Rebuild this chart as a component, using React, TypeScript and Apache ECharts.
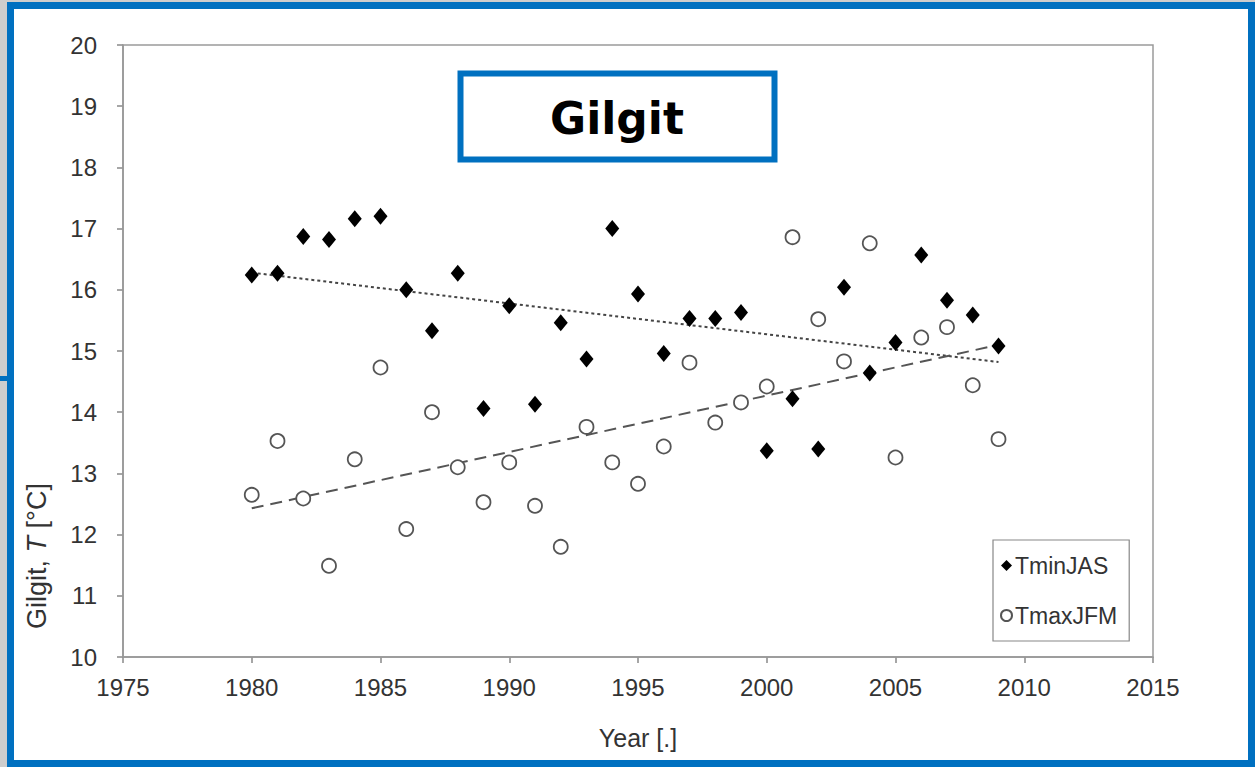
import React, { useEffect, useRef } from "react";
import * as echarts from "echarts";

const years = [1980, 1981, 1982, 1983, 1984, 1985, 1986, 1987, 1988, 1989, 1990, 1991, 1992, 1993, 1994, 1995, 1996, 1997, 1998, 1999, 2000, 2001, 2002, 2003, 2004, 2005, 2006, 2007, 2008, 2009];
const tminJAS = [16.24, 16.27, 16.87, 16.82, 17.16, 17.2, 16.0, 15.33, 16.27, 14.06, 15.74, 14.13, 15.46, 14.87, 17.0, 15.93, 14.96, 15.53, 15.53, 15.63, 13.37, 14.22, 13.4, 16.04, 14.64, 15.14, 16.57, 15.83, 15.59, 15.08];
const tmaxJFM = [12.65, 13.53, 12.59, 11.49, 13.23, 14.73, 12.09, 14.0, 13.1, 12.53, 13.18, 12.47, 11.8, 13.76, 13.18, 12.83, 13.44, 14.81, 13.83, 14.16, 14.42, 16.86, 15.52, 14.83, 16.76, 13.26, 15.22, 15.39, 14.44, 13.56];
// trend line end points
const trendYears = [1980, 2009];
const tminTrend = [16.28, 14.82];
const tmaxTrend = [12.43, 15.1];

const FONT = "'Liberation Sans', Arial, sans-serif";

export default function App() {
  const ref = useRef<HTMLDivElement>(null);
  useEffect(() => {
    if (!ref.current) return;
    const chart = echarts.init(ref.current, undefined, { renderer: "svg" });
    chart.setOption({
      animation: false,
      backgroundColor: "#cdcdcd",
      grid: {
        left: 123,
        right: 102,
        top: 45,
        bottom: 110,
        show: true,
        borderColor: "#9a9a9a",
        borderWidth: 1.5,
        backgroundColor: "transparent",
        z: 1,
      },
      xAxis: {
        type: "value",
        min: 1975,
        max: 2015,
        interval: 5,
        axisLine: { show: true, lineStyle: { color: "#888", width: 1.5 } },
        axisTick: { show: true, inside: false, length: 6, lineStyle: { color: "#888", width: 1.5 } },
        axisLabel: {
          color: "#333",
          fontFamily: FONT,
          fontSize: 24,
          margin: 18,
          formatter: (v: number) => String(v),
        },
        splitLine: { show: false },
      },
      yAxis: {
        type: "value",
        min: 10,
        max: 20,
        interval: 1,
        axisLine: { show: true, lineStyle: { color: "#888", width: 1.5 } },
        axisTick: { show: true, inside: false, length: 6, lineStyle: { color: "#888", width: 1.5 } },
        axisLabel: { color: "#333", fontFamily: FONT, fontSize: 24, margin: 26 },
        splitLine: { show: false },
      },
      legend: {
        data: ["TminJAS", "TmaxJFM"],
        orient: "vertical",
        left: 993,
        top: 540,
        padding: [14, 12, 14, 7],
        itemGap: 27,
        itemWidth: 11,
        itemHeight: 11,
        borderColor: "#888",
        borderWidth: 1.2,
        backgroundColor: "#fff",
        textStyle: { color: "#333", fontFamily: FONT, fontSize: 23, padding: [0, 0, 0, -2] },
      },
      graphic: [
        {
          type: "rect",
          z: -10,
          silent: true,
          shape: { x: 10.5, y: 5.5, width: 1241, height: 758 },
          style: { fill: "#fff", stroke: "#0070c0", lineWidth: 7 },
        },
        {
          type: "rect",
          z: -10,
          silent: true,
          shape: { x: 0, y: 376, width: 8, height: 5 },
          style: { fill: "#0070c0" },
        },
        {
          type: "rect",
          z: 50,
          silent: true,
          shape: { x: 460.5, y: 73.5, width: 314, height: 86 },
          style: { fill: "#fff", stroke: "#0070c0", lineWidth: 6 },
        },
        {
          type: "text",
          z: 51,
          silent: true,
          x: 617,
          y: 118,
          style: {
            text: "Gilgit",
            fill: "#000",
            font: "bold 44px 'DejaVu Sans', sans-serif",
            align: "center",
            verticalAlign: "middle",
          },
        },
        {
          type: "text",
          z: 51,
          silent: true,
          x: 37,
          y: 556,
          rotation: Math.PI / 2,
          style: {
            text: "Gilgit, {i|T} [°C]",
            fill: "#333",
            fontFamily: FONT,
            fontSize: 27,
            align: "center",
            verticalAlign: "middle",
            rich: {
              i: { fontStyle: "italic", fontFamily: FONT, fontSize: 27, fill: "#333" },
            },
          },
        },
        {
          type: "text",
          z: 51,
          silent: true,
          x: 638,
          y: 738,
          style: {
            text: "Year [.]",
            fill: "#333",
            fontFamily: FONT,
            fontSize: 25,
            align: "center",
            verticalAlign: "middle",
          },
        },
      ],
      series: [
        {
          name: "TminTrend",
          type: "line",
          data: trendYears.map((x, i) => [x, tminTrend[i]]),
          showSymbol: false,
          symbol: "none",
          lineStyle: { color: "#444", width: 2, type: [3, 3] },
          z: 2,
        },
        {
          name: "TmaxTrend",
          type: "line",
          data: trendYears.map((x, i) => [x, tmaxTrend[i]]),
          showSymbol: false,
          symbol: "none",
          lineStyle: { color: "#555", width: 2, type: [12, 7] },
          z: 2,
        },
        {
          name: "TminJAS",
          type: "scatter",
          symbol: "diamond",
          symbolSize: [14, 17],
          data: years.map((x, i) => [x, tminJAS[i]]),
          itemStyle: { color: "#000", opacity: 1 },
          z: 3,
        },
        {
          name: "TmaxJFM",
          type: "scatter",
          symbol: "circle",
          symbolSize: 14,
          data: years.map((x, i) => [x, tmaxJFM[i]]),
          itemStyle: { color: "#fff", borderColor: "#555", borderWidth: 1.8, opacity: 1 },
          z: 3,
        },
      ],
    });
    return () => chart.dispose();
  }, []);
  return (
    <div
      ref={ref}
      style={{ position: "absolute", left: 0, top: 0, width: 1255, height: 767 }}
    />
  );
}
